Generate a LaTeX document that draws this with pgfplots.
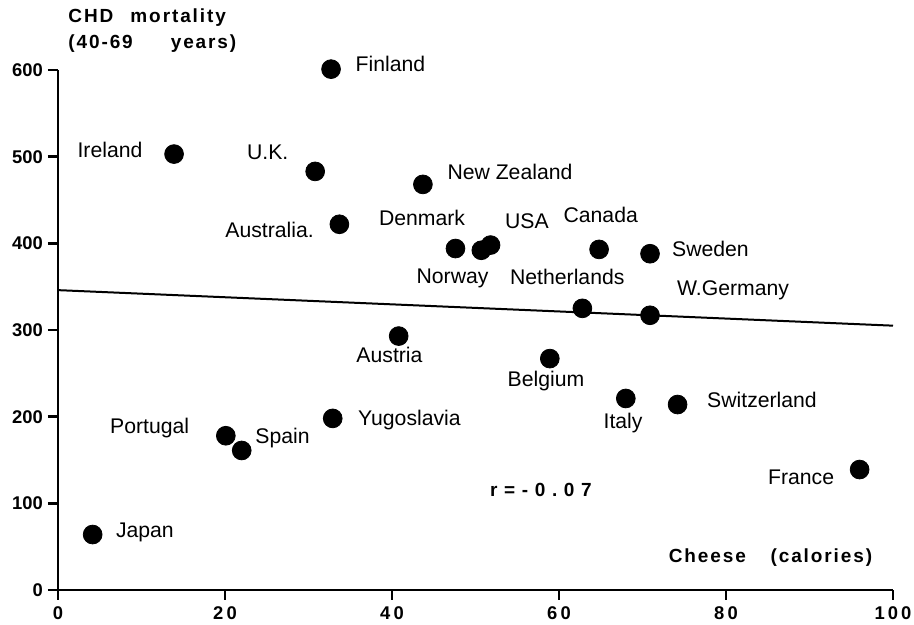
\documentclass[border=0pt]{standalone}
\usepackage{fontspec}
\setmainfont{Liberation Sans}
\usepackage{pgfplots}
\pgfplotsset{compat=1.18}
\begin{document}
\begin{tikzpicture}[lbl/.style={anchor=west, inner sep=0pt, font=\fontsize{10.6}{12}\selectfont},
  ttl/.style={anchor=west, inner sep=0pt, font=\bfseries\fontsize{9.5}{11}\selectfont\addfontfeature{LetterSpace=10}}]
\useasboundingbox (-29pt,-17.5pt) rectangle (428pt,295pt);
\begin{axis}[
  scale only axis,
  width=417.5pt, height=260pt,
  xmin=0, xmax=100, ymin=0, ymax=600,
  axis x line*=bottom, axis y line*=left,
  axis line style={line width=1.2pt, -},
  xtick={0,20,...,100}, ytick={0,100,...,600},
  xticklabels={0,2\,0,4\,0,6\,0,8\,0,1\,0\,0},
  tick align=outside,
  major tick length=5pt,
  tick style={line width=1.2pt, black},
  /pgf/number format/assume math mode=true,
  tick label style={font=\bfseries\fontsize{9.2}{10}\selectfont},
  yticklabel style={xshift=1pt},
  clip=false,
]
\addplot[only marks, mark=*, mark size=4.7pt, black] coordinates {
 (4.15,64) (20.1,178) (22,161) (32.9,198) (40.8,293) (13.9,503) (32.7,601)
 (30.8,483) (33.7,422) (43.7,468) (47.6,394) (50.7,392) (51.8,398) (64.8,393)
 (70.9,388) (62.8,325) (70.9,317) (58.9,267) (68,221) (74.2,214) (96,139)
};
\addplot[black, line width=1pt] coordinates {(0,346) (100,305)};
\node[lbl] at (axis cs:35.6,607) {Finland};
\node[lbl] at (axis cs:2.3,508) {Ireland};
\node[lbl] at (axis cs:22.6,505) {U.K.};
\node[lbl] at (axis cs:20.0,415) {Australia.};
\node[lbl] at (axis cs:38.4,429) {Denmark};
\node[lbl] at (axis cs:42.9,360) {Norway};
\node[lbl] at (axis cs:46.6,482) {New Zealand};
\node[lbl] at (axis cs:53.5,425) {USA};
\node[lbl] at (axis cs:60.5,433) {Canada};
\node[lbl] at (axis cs:73.5,393) {Sweden};
\node[lbl] at (axis cs:54.1,361) {Netherlands};
\node[lbl] at (axis cs:74.1,346) {W.Germany};
\node[lbl] at (axis cs:35.7,271) {Austria};
\node[lbl] at (axis cs:35.9,196) {Yugoslavia};
\node[lbl] at (axis cs:6.2,187) {Portugal};
\node[lbl] at (axis cs:23.6,175) {Spain};
\node[lbl] at (axis cs:6.9,66) {Japan};
\node[lbl] at (axis cs:53.8,241) {Belgium};
\node[lbl] at (axis cs:65.3,193) {Italy};
\node[lbl] at (axis cs:77.7,219) {Switzerland};
\node[lbl] at (axis cs:85.0,130) {France};
\node[ttl, font=\bfseries\fontsize{9.5}{11}\selectfont\addfontfeature{LetterSpace=35}] at (axis cs:51.7,115) {r=-0.07};
\node[ttl] at (axis cs:73.1,37) {Cheese\hspace{1.3em}(calories)};
\node[ttl] at (axis cs:1.2,661) {CHD\hspace{0.9em}mortality};
\node[ttl] at (axis cs:1.2,630) {(40-69\hspace{2em}years)};
\end{axis}
\end{tikzpicture}
\end{document}
